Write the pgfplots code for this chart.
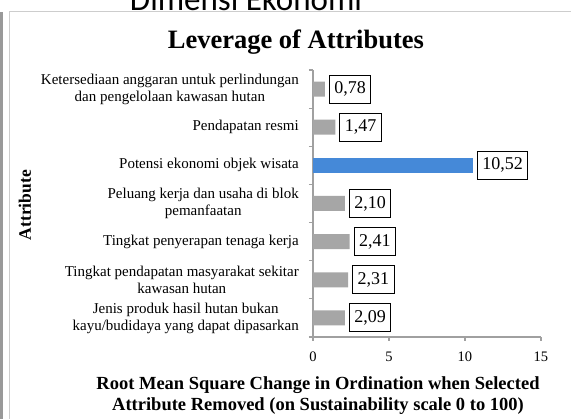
\documentclass[border=0pt]{standalone}
\usepackage{pgfplots}
\pgfplotsset{compat=1.18}
\usepackage{pgfplotstable}
\usepackage{fontspec}
\setmainfont{Liberation Serif}
\newfontfamily\headfont{Carlito}
\definecolor{bargray}{RGB}{166,166,166}
\definecolor{barblue}{RGB}{69,137,216}
\definecolor{axgray}{RGB}{160,160,160}
\definecolor{framegray}{RGB}{205,205,205}

\pgfplotstableread{
x y label
2.09 0 2,09
2.31 1 2,31
2.41 2 2,41
2.10 3 2,10
1.47 5 1,47
0.78 6 0,78
}\graydata
\pgfplotstableread{
x y label
10.52 4 10,52
}\bluedata

\begin{document}
\begin{tikzpicture}[x=1pt,y=1pt]
\useasboundingbox (0,0) rectangle (571,419);
% page furniture
\node[anchor=base, font=\headfont\fontsize{33}{36}\selectfont] at (246,408) {Dimensi Ekonomi};
\fill[white] (9,0) rectangle (571,407);
\draw[framegray, line width=1pt] (9,0) -- (9,407) -- (575,407);
\draw[gray!80, line width=3pt] (1.5,0) -- (1.5,407);
\begin{axis}[
  at={(313pt,82pt)}, anchor=south west,
  scale only axis, width=228pt, height=267pt,
  xmin=0, xmax=15, ymin=-0.5, ymax=6.5,
  axis x line=bottom, axis y line=left,
  axis line style={draw=axgray, line width=1.1pt, -},
  xtick={0,5,10,15},
  ytick={0,...,6},
  yticklabels={{Jenis produk hasil hutan bukan\\kayu/budidaya yang dapat dipasarkan},
    {Tingkat pendapatan masyarakat sekitar\\kawasan hutan},
    {Tingkat penyerapan tenaga kerja},
    {Peluang kerja dan usaha di blok\\pemanfaatan},
    {Potensi ekonomi objek wisata},
    {Pendapatan resmi},
    {Ketersediaan anggaran untuk perlindungan\\dan pengelolaan kawasan hutan}},
  minor ytick={-0.5,0.5,...,6.5},
  tick align=outside,
  major tick length=4pt, minor tick length=4pt,
  major y tick style={draw=none},
  minor y tick style={draw=axgray, line width=1.1pt},
  major x tick style={draw=axgray, line width=1.1pt},
  yticklabel style={align=center, font=\fontsize{15}{17}\selectfont, inner sep=0pt, xshift=-10pt},
  xticklabel style={font=\fontsize{14.5}{17}\selectfont, yshift=-7pt},
  /pgf/number format/assume math mode=true,
  title={Leverage of Attributes},
  title style={font=\bfseries\fontsize{26.5}{30}\selectfont, at={(axis description cs:-0.075,1.082)}, anchor=center},
  xlabel={Root Mean Square Change in Ordination when Selected\\Attribute Removed (on Sustainability scale 0 to 100)},
  xlabel style={align=center, font=\bfseries\fontsize{18.5}{21.5}\selectfont, at={(axis description cs:0.022,-0.220)}, anchor=center},
  ylabel={Attribute},
  ylabel style={font=\bfseries\fontsize{17.5}{20}\selectfont, at={(axis description cs:-1.263,0.494)}, anchor=center, rotate=0},
  xbar, bar width=15pt, bar shift=0pt,
  nodes near coords,
  point meta=explicit symbolic,
  every node near coord/.style={anchor=west, draw=black, line width=1pt, fill=white, text=black,
     font=\fontsize{18}{20}\selectfont, inner xsep=5pt, minimum height=28pt, xshift=4pt},
  clip=false,
]
\addplot[fill=bargray, draw=none] table[x=x, y=y, meta=label] {\graydata};
\addplot[fill=barblue, draw=none] table[x=x, y=y, meta=label] {\bluedata};
\end{axis}
\end{tikzpicture}
\end{document}
